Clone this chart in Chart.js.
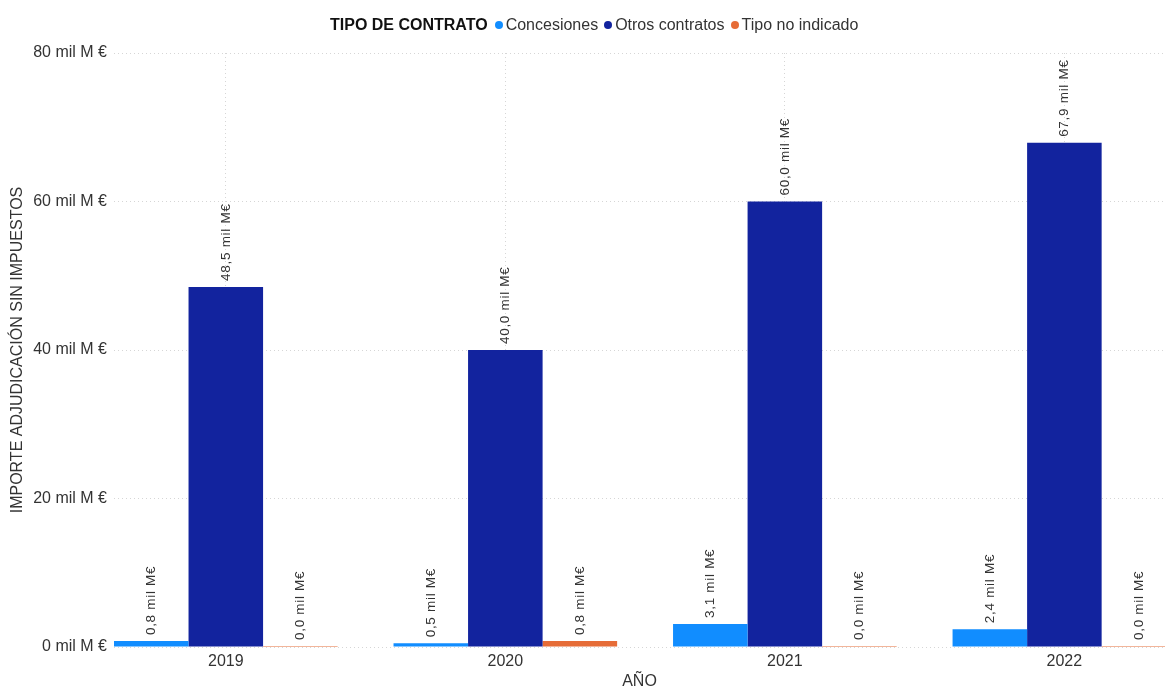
<!DOCTYPE html>
<html>
<head>
<meta charset="utf-8">
<script src="https://cdn.jsdelivr.net/npm/chart.js@4"></script>
<style>
  html, body { margin: 0; padding: 0; background: #fff; overflow: hidden; }
  #wrap { position: relative; width: 1165px; height: 686px; }
  #legend {
    position: absolute; left: 330px; top: 16px;
    display: flex; align-items: center;
    font-family: "Liberation Sans", Arial, sans-serif; font-size: 16px; color: #333;
    white-space: nowrap;
  }
  #legend b { color: #111; margin-right: 7px; }
  #legend .item { display: flex; align-items: center; margin-right: 6px; }
  #legend .dot { width: 8px; height: 8px; border-radius: 50%; margin-right: 3px; }
</style>
</head>
<body>
<div id="wrap">
  <canvas id="chart"></canvas>
  <div id="legend"></div>
</div>
<script>
const years = [2019, 2020, 2021, 2022];
const concesiones = [0.8, 0.5, 3.1, 2.4];
const otrosContratos = [48.5, 40.0, 60.0, 67.9];
const tipoNoIndicado = [0.0, 0.8, 0.0, 0.0];
const yTicks = [0, 20, 40, 60, 80];

const seriesNames = ["Concesiones", "Otros contratos", "Tipo no indicado"];
const seriesColors = ["#118DFF", "#12239E", "#E66C37"];
const seriesValues = [concesiones, otrosContratos, tipoNoIndicado];

const FONT = "'Liberation Sans', Arial, sans-serif";

// legend in html (title inline, like the original)
const legend = document.getElementById("legend");
legend.innerHTML = "<b>TIPO DE CONTRATO</b>" + seriesNames.map((n, i) =>
  `<span class="item"><span class="dot" style="background:${seriesColors[i]}"></span>${n}</span>`
).join("");

const fmt = v => v.toFixed(1).replace(".", ",") + " mil M€";

const valueLabels = {
  id: "valueLabels",
  afterDatasetsDraw(chart) {
    const ctx = chart.ctx;
    ctx.save();
    ctx.font = "13.5px " + FONT;
    ctx.fillStyle = "#333";
    ctx.textAlign = "left";
    ctx.textBaseline = "middle";
    if ("letterSpacing" in ctx) ctx.letterSpacing = "0.7px";
    chart.data.datasets.forEach((ds, di) => {
      chart.getDatasetMeta(di).data.forEach((el, i) => {
        ctx.save();
        ctx.translate(el.x, Math.min(el.y, el.base) - 6);
        ctx.rotate(-Math.PI / 2);
        ctx.fillText(fmt(ds.data[i].y), 0, 0);
        ctx.restore();
      });
    });
    ctx.restore();
  }
};

const gridStyle = {
  color: "rgba(0,0,0,0.16)",
  lineWidth: 1,
  drawTicks: false,
  offset: false
};

new Chart(document.getElementById("chart"), {
  type: "bar",
  data: {
    datasets: seriesNames.map((name, i) => ({
      label: name,
      data: years.map((y, j) => ({ x: y, y: seriesValues[i][j] })),
      backgroundColor: seriesColors[i],
      borderWidth: 0,
      minBarLength: i === 2 ? 1 : 0,
      categoryPercentage: 0.8,
      barPercentage: 1
    }))
  },
  options: {
    responsive: true,
    maintainAspectRatio: false,
    animation: false,
    layout: { padding: { top: 53, left: 0, right: 0, bottom: 0 } },
    plugins: {
      legend: { display: false },
      tooltip: { enabled: false }
    },
    scales: {
      x: {
        type: "linear",
        bounds: "data",
        offset: false,
        min: 2018.6,
        max: 2022.36,
        afterBuildTicks: s => { s.ticks = years.map(v => ({ value: v })); },
        afterFit: s => { s.height = 39; },
        border: { display: false, dash: [1, 3] },
        grid: gridStyle,
        ticks: {
          padding: 5,
          color: "#333",
          font: { family: FONT, size: 16 },
          callback: v => String(v)
        },
        title: {
          display: true,
          text: "AÑO",
          color: "#333",
          font: { family: FONT, size: 16 },
          padding: { top: 0, bottom: -5 }
        }
      },
      y: {
        min: 0,
        max: 80,
        afterBuildTicks: s => { s.ticks = yTicks.map(v => ({ value: v })); },
        afterFit: s => { s.width = 114; },
        border: { display: false, dash: [1, 3] },
        grid: gridStyle,
        ticks: {
          padding: 7,
          color: "#333",
          font: { family: FONT, size: 16 },
          callback: v => v + " mil M €"
        },
        title: {
          display: true,
          text: "IMPORTE ADJUDICACIÓN SIN IMPUESTOS",
          color: "#333",
          font: { family: FONT, size: 16 },
          padding: { top: 8, bottom: 0 }
        }
      }
    }
  },
  plugins: [valueLabels]
});
</script>
</body>
</html>
